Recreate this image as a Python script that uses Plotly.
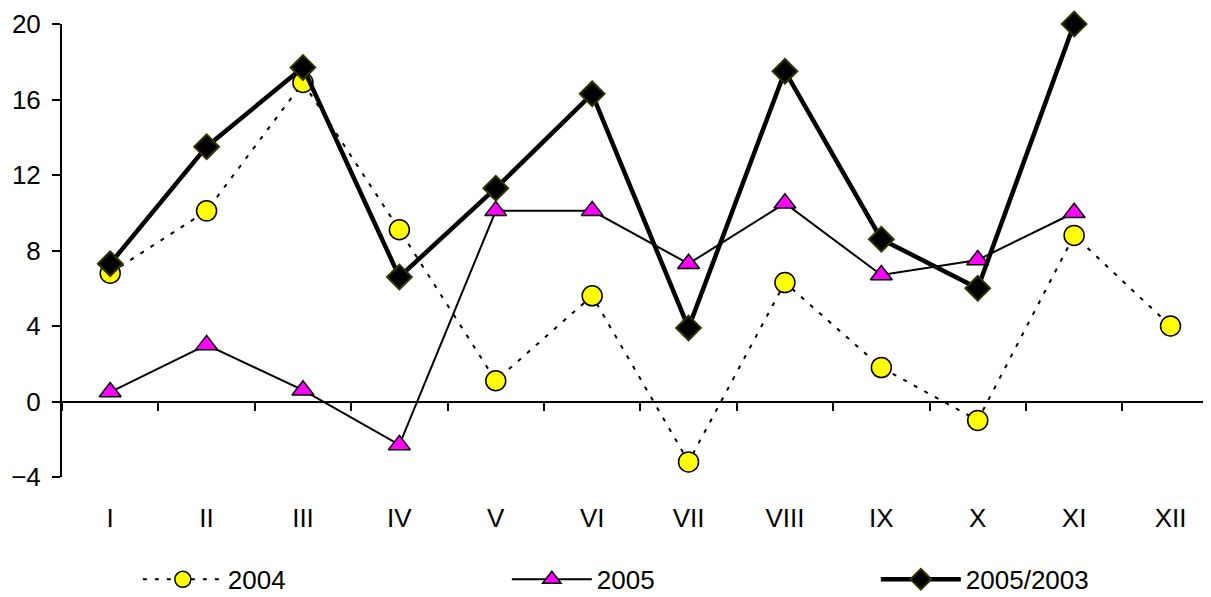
import plotly.graph_objects as go

months = ["I", "II", "III", "IV", "V", "VI", "VII", "VIII", "IX", "X", "XI", "XII"]
y2004 = [6.8, 10.1, 16.9, 9.1, 1.1, 5.6, -3.2, 6.3, 1.8, -1.0, 8.8, 4.0]
y2005 = [0.5, 3.0, 0.6, -2.3, 10.1, 10.1, 7.3, 10.5, 6.7, 7.5, 10.0, None]
y2005_2003 = [7.3, 13.5, 17.7, 6.6, 11.3, 16.3, 3.9, 17.5, 8.6, 6.0, 20.0, None]
y_ticks = [-4, 0, 4, 8, 12, 16, 20]

FONT = "Liberation Sans, Arial, sans-serif"

fig = go.Figure()
fig.add_trace(go.Scatter(
    x=months, y=y2004, name="2004", mode="lines+markers", cliponaxis=False,
    line=dict(color="black", width=2, dash="4px,8px"),
    marker=dict(symbol="circle", size=20, color="#FFFF00", line=dict(color="black", width=1.5)),
))
fig.add_trace(go.Scatter(
    x=months, y=y2005, name="2005", mode="lines+markers", cliponaxis=False,
    line=dict(color="black", width=2),
    marker=dict(symbol="triangle-up", size=19, color="#FF00FF", line=dict(color="black", width=1.5)),
))
fig.add_trace(go.Scatter(
    x=months, y=y2005_2003, name="2005/2003", mode="lines+markers", cliponaxis=False,
    line=dict(color="black", width=4.5),
    marker=dict(symbol="diamond", size=19, color="black", line=dict(color="#333300", width=2)),
))

fig.update_layout(
    width=1203, height=589,
    margin=dict(l=54, r=0, t=16, b=120, autoexpand=False),
    paper_bgcolor="white", plot_bgcolor="white",
    font=dict(family=FONT, size=26, color="black"),
    showlegend=True,
    legend=dict(
        orientation="h", x=0.066, xanchor="left", y=-0.226, yanchor="middle",
        itemwidth=80, entrywidth=274, entrywidthmode="pixels",
        font=dict(family=FONT, size=26, color="black"),
        bgcolor="rgba(0,0,0,0)", traceorder="normal",
    ),
    xaxis=dict(
        type="category", categoryorder="array", categoryarray=months,
        range=[-0.5, 11.42], anchor="free", position=4 / 24,
        showline=True, linecolor="black", linewidth=2,
        tickson="boundaries", ticks="outside", ticklen=8, tickwidth=2, tickcolor="black",
        ticklabelstandoff=93, automargin=False,
        showgrid=False, zeroline=False,
    ),
    yaxis=dict(
        range=[-4, 20], tickvals=y_ticks,
        showline=True, linecolor="black", linewidth=2,
        ticks="outside", ticklen=8, tickwidth=2, tickcolor="black",
        ticklabelstandoff=6, automargin=False,
        showgrid=False, zeroline=False,
    ),
)

fig.write_html("out.html")
